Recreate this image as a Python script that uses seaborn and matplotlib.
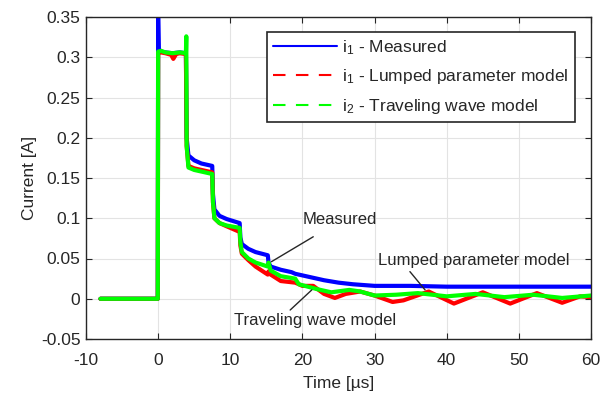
import numpy as np
import pandas as pd
import matplotlib
matplotlib.use("Agg")
import matplotlib.pyplot as plt
from matplotlib.lines import Line2D
import seaborn as sns

# ---------------- data ----------------
t_meas = [-8, -0.05, 0.0, 0.08, 0.4, 1.0, 2.0, 3.0, 3.85, 3.95, 4.2, 5.0, 6.0, 7.5,
          7.6, 7.8, 8.5, 9.5, 11.3, 11.4, 11.6, 12.5, 13.5, 15.2, 15.3, 15.6, 17.0,
          18.5, 19.0, 21.0, 23.0, 25.0, 27.0, 30.0, 35.0, 40.0, 50.0, 60.0]
i_meas = [0.0, 0.0, 0.35, 0.31, 0.307, 0.306, 0.305, 0.306, 0.305, 0.20, 0.178, 0.172,
          0.168, 0.165, 0.13, 0.111, 0.103, 0.099, 0.094, 0.076, 0.068, 0.062, 0.058,
          0.054, 0.045, 0.040, 0.036, 0.033, 0.031, 0.027, 0.023, 0.020, 0.018, 0.016,
          0.016, 0.015, 0.015, 0.015]

t_lump = [-8, -0.05, 0.0, 0.4, 1.0, 1.8, 2.1, 2.5, 3.0, 3.85, 3.95, 4.2, 5.0, 6.0,
          7.5, 7.6, 7.8, 8.5, 9.5, 11.3, 11.4, 11.6, 12.5, 13.5, 15.2, 15.3, 15.6,
          17.0, 19.0, 20.0, 21.5, 23.0, 24.5, 26.0, 28.0, 30.0, 32.5, 34.0, 37.5,
          41.0, 45.0, 48.8, 52.5, 56.0, 58.5, 60.0]
i_lump = [0.0, 0.0, 0.305, 0.306, 0.305, 0.303, 0.298, 0.304, 0.305, 0.304, 0.19,
          0.165, 0.162, 0.160, 0.157, 0.12, 0.100, 0.094, 0.090, 0.083, 0.066, 0.056,
          0.048, 0.040, 0.030, 0.034, 0.030, 0.022, 0.020, 0.016, 0.016, 0.006, 0.001,
          0.006, 0.009, 0.004, -0.004, -0.002, 0.009, -0.006, 0.008, -0.006, 0.007,
          -0.005, 0.003, 0.002]

t_trav = [-8, -0.05, 0.0, 0.4, 1.0, 2.0, 3.0, 3.85, 3.9, 3.95, 4.2, 5.0, 6.0, 7.5,
          7.6, 7.8, 8.5, 9.5, 11.3, 11.4, 11.6, 12.5, 13.5, 15.2, 15.3, 15.6, 17.0,
          19.0, 19.5, 22.0, 24.0, 26.5, 28.0, 30.0, 33.0, 36.0, 40.0, 44.0, 48.0,
          52.0, 56.0, 60.0]
i_trav = [0.0, 0.0, 0.307, 0.308, 0.306, 0.305, 0.306, 0.305, 0.326, 0.19, 0.163,
          0.160, 0.158, 0.155, 0.12, 0.100, 0.094, 0.091, 0.088, 0.070, 0.058, 0.050,
          0.045, 0.040, 0.045, 0.035, 0.028, 0.025, 0.018, 0.012, 0.008, 0.011, 0.009,
          0.004, 0.005, 0.007, 0.003, 0.006, 0.002, 0.005, 0.001, 0.004]

x_ticks = [-10, 0, 10, 20, 30, 40, 50, 60]
y_ticks = [-0.05, 0, 0.05, 0.1, 0.15, 0.2, 0.25, 0.3, 0.35]
y_tick_labels = ["-0.05", "0", "0.05", "0.1", "0.15", "0.2", "0.25", "0.3", "0.35"]

labels = ["i$_\\mathregular{1}$ - Measured",
          "i$_\\mathregular{1}$ - Lumped parameter model",
          "i$_\\mathregular{2}$ - Traveling wave model"]
colors = ["#0000ff", "#ff0000", "#00ff00"]

# ---------------- style ----------------
sns.set_theme(style="whitegrid")
plt.rcParams["font.family"] = ["Liberation Sans", "DejaVu Sans"]
plt.rcParams["mathtext.fontset"] = "custom"
plt.rcParams["mathtext.rm"] = "Liberation Sans"
plt.rcParams["mathtext.it"] = "Liberation Sans:italic"
plt.rcParams["axes.unicode_minus"] = False
txt_color = "#262626"

fig = plt.figure(figsize=(6.06, 3.98), dpi=100)
ax = fig.add_axes([86 / 606, 59 / 398, 505 / 606, 322 / 398])

series = [(t_meas, i_meas), (t_lump, i_lump), (t_trav, i_trav)]
for (t, v), c in zip(series, colors):
    df = pd.DataFrame({"t": t, "i": v})
    sns.lineplot(data=df, x="t", y="i", ax=ax, color=c, lw=3.0,
                 estimator=None, sort=False, legend=False)

ax.set_xlim(-10, 60)
ax.set_ylim(-0.05, 0.35)
ax.set_xticks(x_ticks)
ax.set_yticks(y_ticks)
ax.set_yticklabels(y_tick_labels)
ax.set_xlabel("Time [µs]", fontsize=12.5, color=txt_color, labelpad=6)
ax.set_ylabel("Current [A]", fontsize=12.5, color=txt_color)
ax.yaxis.set_label_coords(-0.097, 0.5)
ax.tick_params(axis="both", which="both", direction="in", length=4, width=0.8,
               labelsize=12.5, colors=txt_color, top=True, right=True,
               bottom=True, left=True)
ax.tick_params(axis="x", pad=10)
ax.tick_params(axis="y", pad=4)
ax.grid(True, color="#e3e3e3", lw=0.8)
ax.set_facecolor("white")
for sp in ax.spines.values():
    sp.set_color(txt_color)
    sp.set_linewidth(1.0)

handles = [Line2D([], [], color=colors[0], lw=1.5),
           Line2D([], [], color=colors[1], lw=1.5, ls=(0, (6, 5))),
           Line2D([], [], color=colors[2], lw=1.5, ls=(0, (6, 5)))]
leg = ax.legend(handles, labels, loc="upper right", bbox_to_anchor=(0.968, 0.953),
                borderaxespad=0, fontsize=12.5, handlelength=3.7, handletextpad=0.3,
                labelspacing=0.6, frameon=True, fancybox=False, framealpha=1,
                borderpad=0.35)
leg.get_frame().set_edgecolor(txt_color)
leg.get_frame().set_linewidth(1.2)
for tx in leg.get_texts():
    tx.set_color(txt_color)

# annotations
ann_kw = dict(fontsize=12, color=txt_color, ha="center", va="center")
line_kw = dict(arrowstyle="-", color=txt_color, lw=1.0, shrinkA=0, shrinkB=0)
ax.text(25.2, 0.098, "Measured", **ann_kw)
ax.annotate("", xy=(15.7, 0.046), xytext=(21.5, 0.077), arrowprops=line_kw)
ax.text(43.7, 0.048, "Lumped parameter model", **ann_kw)
ax.annotate("", xy=(37.0, 0.011), xytext=(34.9, 0.0337), arrowprops=line_kw)
ax.text(21.7, -0.0276, "Traveling wave model", **ann_kw)
ax.annotate("", xy=(21.3, 0.011), xytext=(18.3, -0.014), arrowprops=line_kw)

fig.savefig("out.png", dpi=100, facecolor="white")
